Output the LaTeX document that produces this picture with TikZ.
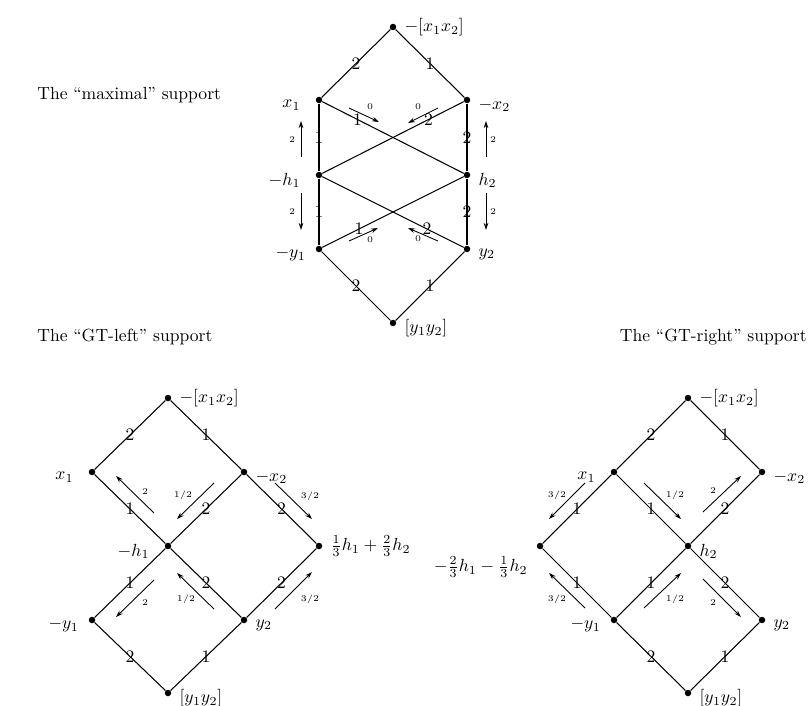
\documentclass[tikz,border=0pt]{standalone}
\usepackage{amsmath}
\usepackage{tikz}
\usetikzlibrary{arrows.meta, positioning, calc}

\begin{document}
\begin{tikzpicture}[x=0.02cm, y=-0.02cm]
    \tikzset{
        vertex/.style={circle, fill=black, inner sep=0pt, minimum size=0.13cm},
        edge/.style={line width=0.6pt},
        weight/.style={inner sep=0pt},
        flow/.style={-{Stealth[length=4pt, width=2.6pt]}, line width=0.5pt},
        flowlabel/.style={font=\tiny, inner sep=0.5pt},
        rlab/.style={label distance=1pt, yshift=-3pt},
        llab/.style={label distance=5pt, yshift=-3pt},
        toplab/.style={label distance=1pt},
        title/.style={inner sep=0pt}
    }
    \useasboundingbox (0,0) rectangle (808,706);

    % titles
    \node[title, anchor=west] (tmax) at (37,95) {The ``maximal'' support};
    \node[title, anchor=west] (tleft) at (37,337) {The ``GT-left'' support};
    \node[title, anchor=east] (tright) at (807,337) {The ``GT-right'' support};

    % maximal support
    \node[vertex, label={[toplab]right:$-[x_1x_2]$}] (mt) at (393,27) {};
    \node[vertex, label={[llab]left:$x_1$}] (mx1) at (319,100) {};
    \node[vertex, label={[rlab]right:$-x_2$}] (mx2) at (467,100) {};
    \node[vertex, label={[llab]left:$-h_1$}] (mh1) at (319,175) {};
    \node[vertex, label={[rlab]right:$h_2$}] (mh2) at (467,175) {};
    \node[vertex, label={[llab, label distance=2pt]left:$-y_1$}] (my1) at (319,249) {};
    \node[vertex, label={[rlab]right:$y_2$}] (my2) at (467,249) {};
    \node[vertex, label={[rlab]right:$[y_1y_2]$}] (mb) at (393,323) {};

    \draw[edge] (mt) -- node[weight] {2} (mx1);
    \draw[edge] (mt) -- node[weight] {1} (mx2);
    \draw[edge] (mx1) -- node[weight] {1} (mh1);
    \draw[edge] (mh1) -- node[weight] {1} (my1);
    \draw[edge] (mx2) -- node[weight] {2} (mh2);
    \draw[edge] (mh2) -- node[weight] {2} (my2);
    \draw[edge] (mx1) -- node[weight, pos=0.25] {1} (mh2);
    \draw[edge] (mx2) -- node[weight, pos=0.25] {2} (mh1);
    \draw[edge] (my1) -- node[weight, pos=0.26] {1} (mh2);
    \draw[edge] (my2) -- node[weight, pos=0.26] {2} (mh1);
    \draw[edge] (my1) -- node[weight] {2} (mb);
    \draw[edge] (my2) -- node[weight] {1} (mb);

    \draw[flow] (349,108) -- (379,122) node[flowlabel] at (370,107) {0};
    \draw[flow] (438,108) -- (408,123) node[flowlabel] at (418,107) {0};
    \draw[flow] (301,157) -- (301,121) node[flowlabel] at (292,140) {2};
    \draw[flow] (486,157) -- (486,121) node[flowlabel] at (493,140) {2};
    \draw[flow] (301,193) -- (301,230) node[flowlabel] at (292,212) {2};
    \draw[flow] (486,193) -- (486,230) node[flowlabel] at (493,212) {2};
    \draw[flow] (349,241) -- (378,228) node[flowlabel] at (370,240) {0};
    \draw[flow] (438,241) -- (408,228) node[flowlabel] at (418,239) {0};

    % GT-left support
    \node[vertex, label={[toplab]right:$-[x_1x_2]$}] (lt) at (168,398) {};
    \node[vertex, label={[llab]left:$x_1$}] (lx1) at (92,472) {};
    \node[vertex, label={[rlab]right:$-x_2$}] (lx2) at (244,472) {};
    \node[vertex, label={[llab]left:$-h_1$}] (lh1) at (168,546) {};
    \node[vertex, label={[toplab]right:$\frac{1}{3}h_1+\frac{2}{3}h_2$}] (lr) at (319,546) {};
    \node[vertex, label={[llab, label distance=2pt]left:$-y_1$}] (ly1) at (92,620) {};
    \node[vertex, label={[rlab]right:$y_2$}] (ly2) at (244,620) {};
    \node[vertex, label={[rlab]right:$[y_1y_2]$}] (lb) at (168,693) {};

    \draw[edge] (lt) -- node[weight] {2} (lx1);
    \draw[edge] (lt) -- node[weight] {1} (lx2);
    \draw[edge] (lx1) -- node[weight] {1} (lh1);
    \draw[edge] (lx2) -- node[weight] {2} (lh1);
    \draw[edge] (lx2) -- node[weight] {2} (lr);
    \draw[edge] (lh1) -- node[weight] {1} (ly1);
    \draw[edge] (lh1) -- node[weight] {2} (ly2);
    \draw[edge] (ly2) -- node[weight] {2} (lr);
    \draw[edge] (ly1) -- node[weight] {2} (lb);
    \draw[edge] (ly2) -- node[weight] {1} (lb);

    \draw[flow] (154,513) -- (116,476) node[flowlabel] at (145,492) {2};
    \draw[flow] (214,483) -- (177,519) node[flowlabel] at (183,495) {$1/2$};
    \draw[flow] (275,483) -- (312,519) node[flowlabel] at (310,496) {$3/2$};
    \draw[flow] (154,580) -- (116,617) node[flowlabel] at (145,603) {2};
    \draw[flow] (214,609) -- (177,573) node[flowlabel] at (186,599) {$1/2$};
    \draw[flow] (275,609) -- (312,572) node[flowlabel] at (310,599) {$3/2$};

    % GT-right support
    \node[vertex, label={[toplab]right:$-[x_1x_2]$}] (rt) at (688,398) {};
    \node[vertex, label={[llab]left:$x_1$}] (rx1) at (614,472) {};
    \node[vertex, label={[rlab]right:$-x_2$}] (rx2) at (762,472) {};
    \node[vertex, label={[label distance=3pt, yshift=1pt]below left:$-\frac{2}{3}h_1-\frac{1}{3}h_2$}] (rl) at (540,546) {};
    \node[vertex, label={[rlab]right:$h_2$}] (rh2) at (688,546) {};
    \node[vertex, label={[llab, label distance=2pt]left:$-y_1$}] (ry1) at (614,620) {};
    \node[vertex, label={[rlab]right:$y_2$}] (ry2) at (762,620) {};
    \node[vertex, label={[rlab]right:$[y_1y_2]$}] (rb) at (688,693) {};

    \draw[edge] (rt) -- node[weight] {2} (rx1);
    \draw[edge] (rt) -- node[weight] {1} (rx2);
    \draw[edge] (rx1) -- node[weight] {1} (rl);
    \draw[edge] (rx1) -- node[weight] {1} (rh2);
    \draw[edge] (rx2) -- node[weight] {2} (rh2);
    \draw[edge] (rl) -- node[weight] {1} (ry1);
    \draw[edge] (ry1) -- node[weight] {1} (rh2);
    \draw[edge] (rh2) -- node[weight] {2} (ry2);
    \draw[edge] (ry1) -- node[weight] {2} (rb);
    \draw[edge] (ry2) -- node[weight] {1} (rb);

    \draw[flow] (585,483) -- (549,519) node[flowlabel] at (557,495) {$3/2$};
    \draw[flow] (644,483) -- (681,519) node[flowlabel] at (675,495) {$1/2$};
    \draw[flow] (703,512) -- (741,476) node[flowlabel] at (713,491) {2};
    \draw[flow] (585,608) -- (549,573) node[flowlabel] at (557,599) {$3/2$};
    \draw[flow] (644,608) -- (681,573) node[flowlabel] at (675,599) {$1/2$};
    \draw[flow] (703,579) -- (741,617) node[flowlabel] at (713,603) {2};
\end{tikzpicture}
\end{document}
